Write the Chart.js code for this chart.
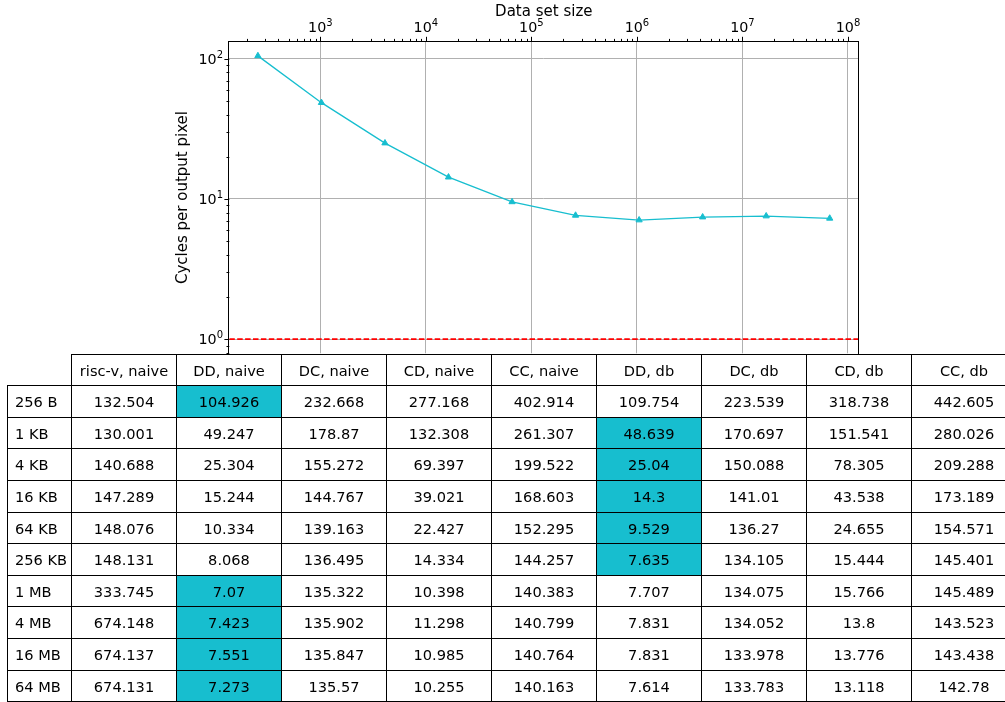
<!DOCTYPE html>
<html>
<head>
<meta charset="utf-8">
<script src="https://cdn.jsdelivr.net/npm/chart.js@4.4.1/dist/chart.umd.min.js"></script>
<style>
  body { margin: 0; background: #fff; }
  #page { position: relative; width: 1005px; height: 702px; overflow: hidden; background: #fff; }
  #plot { position: absolute; left: 0; top: 0; }
  .cell {
    position: absolute; box-sizing: border-box; border: 1px solid #000;
    display: flex; align-items: center; justify-content: center;
    font: 14.6px 'DejaVu Sans', sans-serif; color: #000; white-space: nowrap;
  }
  .cell.rowlab { justify-content: flex-start; padding-left: 7px; }
  .cell.best { background: #17becf; }
</style>
</head>
<body>
<div id="page">
  <canvas id="plot" width="1005" height="360"></canvas>
  <div id="table"></div>
</div>
<script>
// --- data ---
const sizeLabels = ["256 B", "1 KB", "4 KB", "16 KB", "64 KB", "256 KB", "1 MB", "4 MB", "16 MB", "64 MB"];
const dataSizes = [256, 1024, 4096, 16384, 65536, 262144, 1048576, 4194304, 16777216, 67108864]; // bytes

const columnLabels = ["risc-v, naive", "DD, naive", "DC, naive", "CD, naive", "CC, naive",
                      "DD, db", "DC, db", "CD, db", "CC, db"];
const rvNaive = [132.504, 130.001, 140.688, 147.289, 148.076, 148.131, 333.745, 674.148, 674.137, 674.131];
const ddNaive = [104.926, 49.247, 25.304, 15.244, 10.334, 8.068, 7.07, 7.423, 7.551, 7.273];
const dcNaive = [232.668, 178.87, 155.272, 144.767, 139.163, 136.495, 135.322, 135.902, 135.847, 135.57];
const cdNaive = [277.168, 132.308, 69.397, 39.021, 22.427, 14.334, 10.398, 11.298, 10.985, 10.255];
const ccNaive = [402.914, 261.307, 199.522, 168.603, 152.295, 144.257, 140.383, 140.799, 140.764, 140.163];
const ddDb = [109.754, 48.639, 25.04, 14.3, 9.529, 7.635, 7.707, 7.831, 7.831, 7.614];
const dcDb = [223.539, 170.697, 150.088, 141.01, 136.27, 134.105, 134.075, 134.052, 133.978, 133.783];
const cdDb = [318.738, 151.541, 78.305, 43.538, 24.655, 15.444, 15.766, 13.8, 13.776, 13.118];
const ccDb = [442.605, 280.026, 209.288, 173.189, 154.571, 145.401, 145.489, 143.523, 143.438, 142.78];

// best (plotted) value for each data set size
const fastest = [104.926, 48.639, 25.04, 14.3, 9.529, 7.635, 7.07, 7.423, 7.551, 7.273];
const targetLevel = 1;

const xTickExps = [3, 4, 5, 6, 7, 8];
const yTickExps = [0, 1, 2];

const columns = [rvNaive, ddNaive, dcNaive, cdNaive, ccNaive, ddDb, dcDb, cdDb, ccDb];

// matplotlib-style auto limits (5% margin in log space)
function logLimits(vals) {
    const lo = Math.log10(Math.min(...vals));
    const hi = Math.log10(Math.max(...vals));
    const m = (hi - lo) * 0.05;
    return [10 ** (lo - m), 10 ** (hi + m)];
}
const [xMin, xMax] = logLimits(dataSizes);
const [yMin, yMax] = logLimits([...fastest, targetLevel]);

const isPow10 = v => v > 0 && Math.abs(Math.log10(v) - Math.round(Math.log10(v))) < 1e-9;
const FONT = "'DejaVu Sans', sans-serif";

// draws "10" with a raised exponent, like mathtext
function drawPow(ctx, exp, px, baseY, align) {
    ctx.font = "14.3px " + FONT;
    const wm = ctx.measureText("10").width;
    ctx.font = "10px " + FONT;
    const ws = ctx.measureText(String(exp)).width;
    const left = align === "center" ? px - (wm + ws) / 2 : px - (wm + ws);
    ctx.font = "14.3px " + FONT;
    ctx.fillText("10", left, baseY);
    ctx.font = "10px " + FONT;
    ctx.fillText(String(exp), left + wm, baseY - 6);
}

// tick marks, tick labels and the four spines
const axesDecor = {
    id: "axesDecor",
    afterDraw(chart) {
        const { ctx, chartArea: a, scales: { x, y } } = chart;
        ctx.save();
        ctx.strokeStyle = "#000";
        ctx.lineWidth = 1;
        ctx.beginPath();
        for (let e = Math.floor(Math.log10(xMin)); e <= Math.ceil(Math.log10(xMax)); e++) {
            for (let k = 1; k <= 9; k++) {
                const v = k * 10 ** e;
                if (v < xMin || v > xMax) continue;
                const px = Math.round(x.getPixelForValue(v)) + 0.5;
                ctx.moveTo(px, a.top);
                ctx.lineTo(px, a.top - (k === 1 ? 4.9 : 2.8));
            }
        }
        for (let e = Math.floor(Math.log10(yMin)); e <= Math.ceil(Math.log10(yMax)); e++) {
            for (let k = 1; k <= 9; k++) {
                const v = k * 10 ** e;
                if (v < yMin || v > yMax) continue;
                const py = Math.round(y.getPixelForValue(v)) + 0.5;
                ctx.moveTo(a.left, py);
                ctx.lineTo(a.left - (k === 1 ? 4.9 : 2.8), py);
            }
        }
        ctx.stroke();
        ctx.strokeRect(Math.round(a.left) - 0.5, Math.round(a.top) - 0.5,
                       Math.round(a.right - a.left) + 1, Math.round(a.bottom - a.top) + 1);

        ctx.fillStyle = "#000";
        ctx.textAlign = "left";
        ctx.textBaseline = "alphabetic";
        xTickExps.forEach(e => drawPow(ctx, e, x.getPixelForValue(10 ** e), a.top - 9.4, "center"));
        yTickExps.forEach(e => drawPow(ctx, e, a.left - 6.3, y.getPixelForValue(10 ** e) + 5.3, "right"));
        ctx.restore();
    }
};

const gridColor = c => (c.tick && isPow10(c.tick.value)) ? "#b0b0b0" : "rgba(0,0,0,0)";

new Chart(document.getElementById("plot"), {
    type: "line",
    data: {
        datasets: [{
            label: "fastest",
            data: dataSizes.map((s, i) => ({ x: s, y: fastest[i] })),
            borderColor: "#17becf",
            backgroundColor: "#17becf",
            borderWidth: 1.3,
            pointStyle: "triangle",
            pointRadius: 3.6,
            pointBorderWidth: 1,
            pointBorderColor: "#17becf",
            pointBackgroundColor: "#17becf",
            tension: 0,
            fill: false
        }, {
            label: "reference",
            data: [{ x: xMin, y: targetLevel }, { x: xMax, y: targetLevel }],
            borderColor: "#ff0000",
            borderWidth: 1.6,
            borderDash: [5.5, 2.4],
            pointRadius: 0,
            fill: false
        }]
    },
    options: {
        responsive: false,
        animation: false,
        devicePixelRatio: 1,
        layout: { padding: { left: 170, right: 146.7, top: 0, bottom: 6.7 } },
        plugins: { legend: { display: false }, tooltip: { enabled: false } },
        scales: {
            x: {
                type: "logarithmic",
                position: "top",
                min: xMin,
                max: xMax,
                afterFit: s => { s.height = 41.7; },
                ticks: { display: false, autoSkip: false },
                grid: { color: gridColor, lineWidth: 1, drawTicks: false },
                border: { display: false },
                title: {
                    display: true, text: "Data set size", color: "#000",
                    font: { family: FONT, size: 15 }, padding: { top: 2.8, bottom: 0 }
                }
            },
            y: {
                type: "logarithmic",
                position: "left",
                min: yMin,
                max: yMax,
                afterFit: s => { s.width = 59.3; },
                ticks: { display: false, autoSkip: false },
                grid: { color: gridColor, lineWidth: 1, drawTicks: false },
                border: { display: false },
                title: {
                    display: true, text: "Cycles per output pixel", color: "#000",
                    font: { family: FONT, size: 15 }, padding: { top: 4.3, bottom: 0 }
                }
            }
        }
    },
    plugins: [axesDecor]
});

// --- table under the plot ---
const table = document.getElementById("table");
const colX = [];
for (let j = 0; j <= columnLabels.length; j++) colX.push(Math.round(71.2 + j * 105));
const rowY = [];
for (let k = 0; k <= sizeLabels.length + 1; k++) rowY.push(Math.round(353.5 + k * 31.6));

function addCell(text, left, top, right, bottom, cls) {
    const d = document.createElement("div");
    d.className = "cell" + (cls ? " " + cls : "");
    d.style.left = left + "px";
    d.style.top = top + "px";
    d.style.width = (right - left + 1) + "px";
    d.style.height = (bottom - top + 1) + "px";
    d.textContent = text;
    table.appendChild(d);
}

columnLabels.forEach((lab, j) => addCell(lab, colX[j], rowY[0], colX[j + 1], rowY[1]));
sizeLabels.forEach((lab, i) => {
    const top = rowY[i + 1], bottom = rowY[i + 2];
    addCell(lab, 7, top, colX[0], bottom, "rowlab");
    const rowVals = columns.map(c => c[i]);
    const best = Math.min(...rowVals);
    rowVals.forEach((v, j) => addCell(String(v), colX[j], top, colX[j + 1], bottom, v === best ? "best" : ""));
});
</script>
</body>
</html>
